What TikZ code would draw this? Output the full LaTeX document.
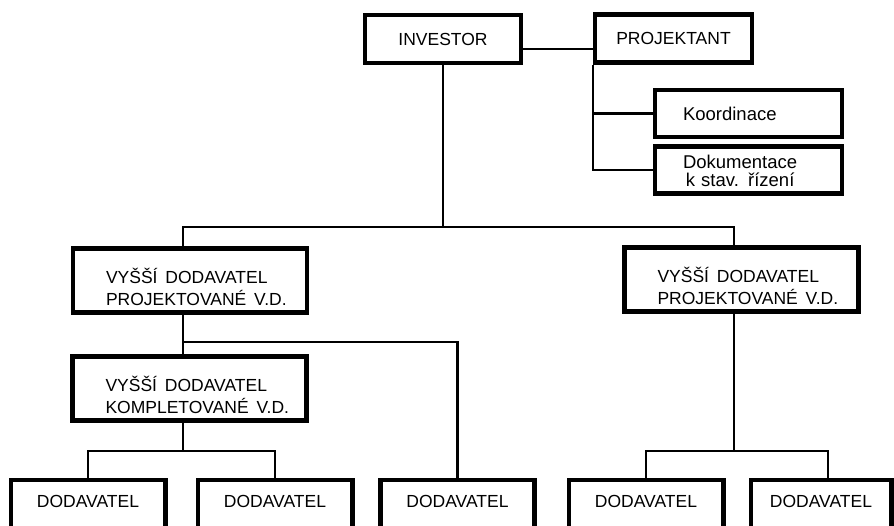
\documentclass[tikz,border=0pt]{standalone}
\usepackage{fontspec}
\setmainfont{Liberation Sans}
\newcommand{\wsp}{\hspace*{0.45em}}
\begin{document}
\begin{tikzpicture}[x=1pt,y=-1pt,
  frame/.style={draw=black, line width=4.6pt, rectangle, inner sep=0pt,
    font=\fontsize{17.5}{22}\selectfont},
  topbox/.style={frame, minimum width=156, minimum height=48},
  smallbox/.style={frame, minimum width=187, minimum height=47,
    text width=131, align=left, font=\fontsize{18.5}{14}\selectfont},
  vdbox/.style={frame, minimum width=234, minimum height=64,
    text width=168, align=left, text height=22, text depth=17},
  leafbox/.style={rectangle, inner sep=0pt, anchor=north,
    minimum width=154, minimum height=43, font=\fontsize{17.5}{22}\selectfont},
  leafframe/.style={draw=black, line width=4.6pt, line join=miter},
  conn/.style={draw=black, line width=2.3pt}
]
\clip (0,0) rectangle (894,525);

% upper level
\node[topbox] (inv)  at (443,39)    {INVESTOR};
\node[topbox, minimum width=157] (proj) at (673.5,38.5) {PROJEKTANT};
\node[smallbox] (koord) at (748.5,113.5) {Koordinace};
\node[smallbox] (doc)   at (748.5,170)
  {\raisebox{-3pt}[\height][\depth]{%
    \begin{tabular}{@{}c@{}}Dokumentace\\[-0.5pt]k stav. řízení\end{tabular}}};

% higher suppliers
\node[vdbox] (vd1) at (190,280.5)
  {\mbox{VYŠŠÍ\wsp DODAVATEL}\\\mbox{PROJEKTOVANÉ\wsp V.D.}};
\node[vdbox] (vd2) at (741.5,279.5)
  {\mbox{VYŠŠÍ\wsp DODAVATEL}\\\mbox{PROJEKTOVANÉ\wsp V.D.}};
\node[vdbox] (vdk) at (189.5,388.5)
  {\mbox{VYŠŠÍ\wsp DODAVATEL}\\\mbox{KOMPLETOVANÉ\wsp V.D.}};

% suppliers, boxes running off the lower edge
\node[leafbox] (d1) at (88,480)  {DODAVATEL};
\node[leafbox] (d2) at (275,480) {DODAVATEL};
\node[leafbox] (d3) at (457.5,480) {DODAVATEL};
\node[leafbox] (d4) at (646,480) {DODAVATEL};
\node[leafbox, minimum width=140] (d5) at (821,480) {DODAVATEL};
\foreach \n in {d1,d2,d3,d4,d5}
  \draw[leafframe] ([yshift=-60pt]\n.south west) -- (\n.north west)
    -- (\n.north east) -- ([yshift=-60pt]\n.south east);

% junction points
\coordinate (pj)  at (560,49);
\coordinate (pv)  at (proj.south west);
\coordinate (bl)  at (183,227);
\coordinate (br)  at (734,227);
\coordinate (kb)  at (183,342);
\coordinate (lb)  at (183,451);
\coordinate (rb)  at (734,451);
\coordinate (rb5) at (828,451);

% connectors
\draw[conn] (inv.east |- pj) -- (proj.west |- pj);
\draw[conn] (pv) |- (doc.west);
\draw[conn] (pv |- koord.west) -- (koord.west);
\draw[conn] (inv.south) -- (inv.south |- bl);
\draw[conn] (vd1.north -| bl) -- (bl) -- (br) -- (vd2.north -| br);
\draw[conn] (vd1.south -| bl) -- (vdk.north -| bl);
\draw[conn] (kb) -| (d3.north);
\draw[conn] (vdk.south -| lb) -- (lb);
\draw[conn] (d1.north) |- (lb) -| (d2.north);
\draw[conn] (vd2.south -| rb) -- (rb);
\draw[conn] (d4.north) |- (rb5) -- (d5.north -| rb5);
\end{tikzpicture}
\end{document}
